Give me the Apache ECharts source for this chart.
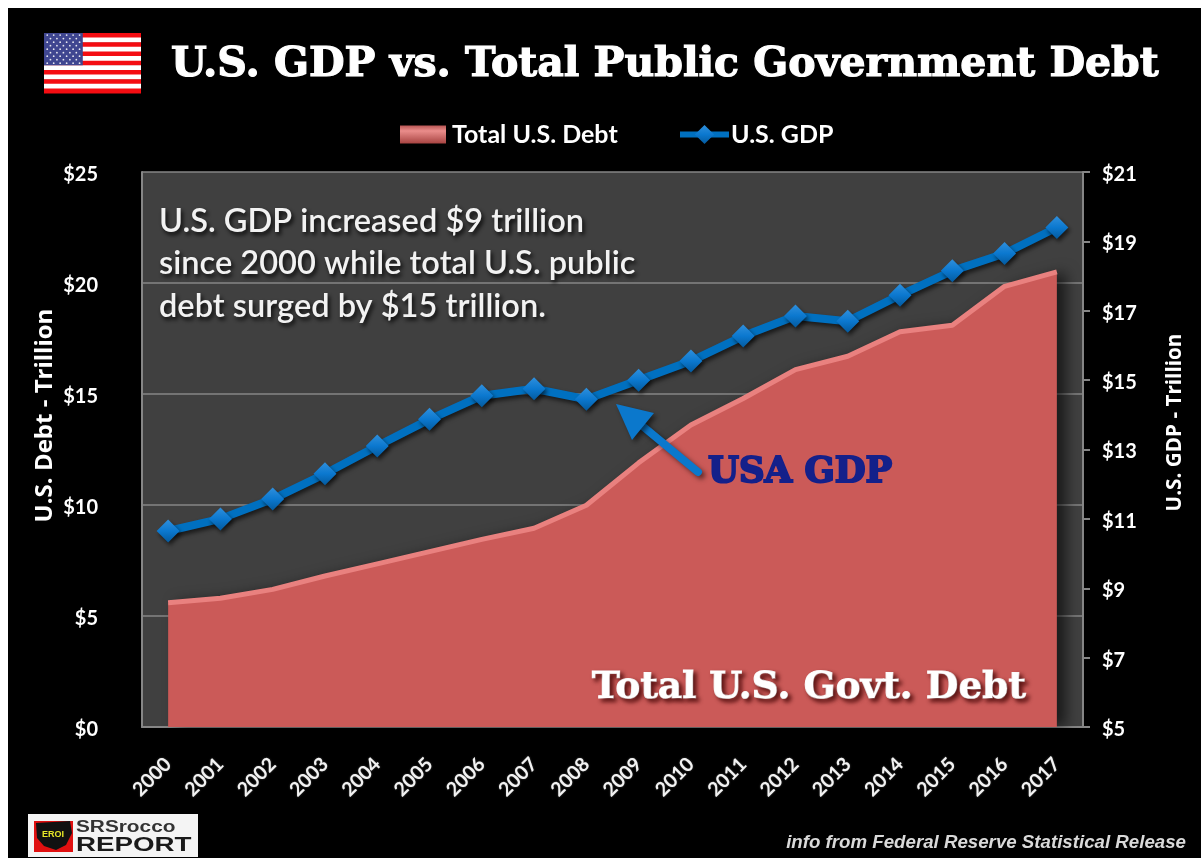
<!DOCTYPE html>
<html>
<head>
<meta charset="utf-8">
<title>U.S. GDP vs. Total Public Government Debt</title>
<script src="https://cdn.jsdelivr.net/npm/echarts@6/dist/echarts.min.js"></script>
<style>
  html, body { margin: 0; padding: 0; background: #fff; }
  #backdrop { position: absolute; left: 8px; top: 8px; width: 1193px; height: 850px; background: #000; }
  #chart { position: absolute; left: 0; top: 0; width: 1201px; height: 858px; }
</style>
</head>
<body>
<div id="backdrop"></div>
<div id="chart"></div>
<script>
// Annual figures, trillions of dollars
const years = ['2000','2001','2002','2003','2004','2005','2006','2007','2008','2009','2010','2011','2012','2013','2014','2015','2016','2017'];
const totalDebt = [5.6, 5.8, 6.2, 6.8, 7.35, 7.9, 8.45, 8.95, 9.99, 11.9, 13.6, 14.8, 16.1, 16.7, 17.8, 18.1, 19.85, 20.5];
const usGdp = [10.65, 11.0, 11.57, 12.3, 13.1, 13.87, 14.55, 14.75, 14.45, 15.0, 15.55, 16.27, 16.85, 16.7, 17.45, 18.15, 18.65, 19.4];
const gdpTicks = [5, 7, 9, 11, 13, 15, 17, 19, 21];
const noteLines = ['U.S. GDP increased $9 trillion', 'since 2000 while total U.S. public', 'debt surged by $15 trillion.'];

const SANS = 'Lato, "Open Sans", sans-serif';
const WIDE = '"Open Sans", Lato, sans-serif';
const SLAB = '"DejaVu Serif", serif';
const dollars = v => '{money|$' + v + '}';
// Rich style for the value axes: the top padding nudges the digits onto their ticks
const moneyRich = { money: { color: '#fff', fontFamily: SANS, fontWeight: 'bold', fontSize: 20, padding: [5, 0, 0, 0] } };

// Flag: thirteen stripes, blue canton and a lattice of stars
function flagElements(x, y, w, h) {
  const parts = [];
  const stripe = h / 13;
  for (let i = 0; i < 13; i++) {
    parts.push({ type: 'rect', silent: true, shape: { x, y: y + i * stripe, width: w, height: stripe + 0.5 },
      style: { fill: i % 2 ? '#ffffff' : '#f40d12' } });
  }
  const cw = w * 0.4, ch = stripe * 7;
  parts.push({ type: 'rect', silent: true, shape: { x, y, width: cw, height: ch }, style: { fill: '#3f4690' } });
  for (let r = 0; r < 9; r++) {
    const n = r % 2 ? 5 : 6;
    for (let c = 0; c < n; c++) {
      parts.push({ type: 'circle', silent: true,
        shape: { cx: x + (c + (r % 2 ? 1 : 0.5)) * cw / 6, cy: y + (r + 0.6) * ch / 9.2, r: 0.9 },
        style: { fill: '#e6e6f0' } });
    }
  }
  return parts;
}

// Publisher badge in the lower left corner
function badgeElements() {
  return [
    { type: 'rect', silent: true, shape: { x: 28, y: 814, width: 170, height: 43 }, style: { fill: '#f4f4f4' } },
    { type: 'rect', silent: true, shape: { x: 34, y: 821, width: 39, height: 31 }, style: { fill: '#e01010' } },
    { type: 'polygon', silent: true, shape: { points: [[36,823],[70,821],[72,833],[66,845],[56,850],[44,846],[37,838]] }, style: { fill: '#111' } },
    { type: 'text', silent: true, style: { x: 53, y: 835, text: 'EROI', fill: '#e6e628', font: 'bold 9px "Liberation Sans"', align: 'center', verticalAlign: 'middle' } },
    { type: 'text', silent: true, x: 76, y: 827.5, scaleX: 1.3, style: { x: 0, y: 0, text: 'SRSrocco', fill: '#333', font: 'bold 16px "Liberation Sans"', verticalAlign: 'middle' } },
    { type: 'text', silent: true, x: 76, y: 845, scaleX: 1.32, style: { x: 0, y: 0, text: 'REPORT', fill: '#1a1a1a', font: 'bold 21px "Liberation Sans"', verticalAlign: 'middle' } }
  ];
}

const chart = echarts.init(document.getElementById('chart'), null, { renderer: 'canvas' });

const noteText = noteLines.map((line, i) => ({
  type: 'text', silent: true, z: 20,
  style: { x: 159, y: 221 + i * 42.5, text: line, fill: '#f2f2f2', font: '600 32.6px ' + SANS, verticalAlign: 'middle',
    textShadowColor: 'rgba(0,0,0,0.85)', textShadowBlur: 4, textShadowOffsetX: 2, textShadowOffsetY: 3 }
}));

chart.setOption({
  animation: false,
  backgroundColor: 'transparent',
  title: {
    text: 'U.S. GDP vs. Total Public Government Debt',
    left: 171, top: 45, padding: 0,
    textStyle: { color: '#fff', fontFamily: SLAB, fontWeight: 'bold', fontSize: 41, textBorderColor: '#fff', textBorderWidth: 1.2 }
  },
  legend: [
    {
      top: 122, left: 400, padding: 0, itemWidth: 46, itemHeight: 18,
      textStyle: { color: '#fff', fontFamily: SANS, fontWeight: 'bold', fontSize: 25, padding: [0, 0, 0, 1] },
      data: [{ name: 'Total U.S. Debt', icon: 'rect' }]
    },
    {
      top: 122, left: 677, padding: 0, itemWidth: 49, itemHeight: 24,
      lineStyle: { width: 6 },
      textStyle: { color: '#fff', fontFamily: SANS, fontWeight: 'bold', fontSize: 25, padding: [0, 0, 0, -3] },
      data: [{ name: 'U.S. GDP' }]
    }
  ],
  grid: {
    left: 142, right: 118, top: 172, bottom: 131,
    show: true, backgroundColor: '#404040', borderWidth: 0
  },
  xAxis: {
    type: 'category', data: years, boundaryGap: true,
    axisLine: { lineStyle: { color: '#868686', width: 2 } },
    axisTick: { show: false },
    axisLabel: { color: '#f2f2f2', fontFamily: SANS, fontWeight: 'bold', fontSize: 19.5, rotate: 45, margin: 34, interval: 0,
      textShadowColor: 'rgba(255,255,255,0.3)', textShadowBlur: 2 }
  },
  yAxis: [
    {
      type: 'value', min: 0, max: 25, interval: 5, position: 'left',
      name: 'U.S. Debt - Trillion', nameLocation: 'middle', nameGap: 85, nameRotate: 90, nameMoveOverlap: false,
      nameTextStyle: { color: '#fff', fontFamily: WIDE, fontWeight: 'bold', fontSize: 24, padding: [0, 0, 0, 68] },
      axisLine: { show: true, lineStyle: { color: '#868686', width: 2 } },
      axisTick: { show: false },
      axisLabel: { margin: 44, formatter: dollars, rich: moneyRich },
      splitLine: { show: true, lineStyle: { color: '#868686', width: 1.5 } }
    },
    {
      type: 'value', min: 5, max: 21, position: 'right',
      name: 'U.S. GDP - Trillion', nameLocation: 'middle', nameGap: 82, nameRotate: 90,
      nameTextStyle: { color: '#fff', fontFamily: WIDE, fontWeight: 'bold', fontSize: 20.7, padding: [0, 0, 0, 54] },
      axisLine: { show: true, lineStyle: { color: '#868686', width: 2 } },
      axisTick: { show: true, length: 7, customValues: gdpTicks, lineStyle: { color: '#868686', width: 2 } },
      axisLabel: { margin: 19, customValues: gdpTicks, formatter: dollars, rich: moneyRich },
      splitLine: { show: false }
    }
  ],
  series: [
    {
      name: 'Total U.S. Debt', type: 'line', yAxisIndex: 0, data: totalDebt,
      showSymbol: false, symbol: 'none', z: 2,
      lineStyle: { color: '#e9817f', width: 5 },
      itemStyle: { color: new echarts.graphic.LinearGradient(0, 0, 0, 1, [
        { offset: 0, color: '#b85553' }, { offset: 0.3, color: '#ea8d8b' }, { offset: 1, color: '#a84442' }]) },
      areaStyle: { color: '#cb5a58', opacity: 1, shadowColor: 'rgba(0,0,0,0.6)', shadowBlur: 14, shadowOffsetX: 9, shadowOffsetY: 0 }
    },
    {
      name: 'U.S. GDP', type: 'line', yAxisIndex: 1, data: usGdp, z: 5,
      symbol: 'diamond', symbolSize: 23,
      lineStyle: { color: '#0070c0', width: 8, shadowColor: 'rgba(0,0,0,0.6)', shadowBlur: 4, shadowOffsetX: 2, shadowOffsetY: 3 },
      itemStyle: {
        color: new echarts.graphic.LinearGradient(0, 0, 0, 1, [
          { offset: 0, color: '#2f8fdc' }, { offset: 0.5, color: '#0b78cf' }, { offset: 1, color: '#045a9e' }]),
        shadowColor: 'rgba(0,0,0,0.6)', shadowBlur: 4, shadowOffsetX: 2, shadowOffsetY: 3
      }
    }
  ],
  graphic: [
    ...flagElements(44, 33, 97, 60),
    ...badgeElements(),
    ...noteText,
    // Callout pointing at the 2008 dip in GDP
    { type: 'line', silent: true, z: 20,
      shape: { x1: 698, y1: 472, x2: 640, y2: 424 },
      style: { stroke: '#0b78cc', lineWidth: 8, lineCap: 'round', shadowColor: 'rgba(0,0,0,0.55)', shadowBlur: 5, shadowOffsetX: 3, shadowOffsetY: 3 } },
    { type: 'polygon', silent: true, z: 20,
      shape: { points: [[616,404],[654,413],[632,440]] },
      style: { fill: '#0b78cc', shadowColor: 'rgba(0,0,0,0.55)', shadowBlur: 5, shadowOffsetX: 3, shadowOffsetY: 3 } },
    { type: 'text', silent: true, z: 20,
      style: { x: 708, y: 473, text: 'USA GDP', fill: '#14208a', font: 'bold 35.5px ' + SLAB, verticalAlign: 'middle',
        stroke: '#14208a', lineWidth: 2 } },
    { type: 'text', silent: true, z: 20,
      style: { x: 592, y: 688, text: 'Total U.S. Govt. Debt', fill: '#ffffff', font: 'bold 37.5px ' + SLAB, verticalAlign: 'middle',
        stroke: '#ffffff', lineWidth: 1.2,
        textShadowColor: 'rgba(60,0,0,0.8)', textShadowBlur: 4, textShadowOffsetX: 3, textShadowOffsetY: 3 } },
    { type: 'text', silent: true, z: 20,
      style: { x: 1186, y: 843, text: 'info from Federal Reserve Statistical Release', fill: '#d9d9d9', align: 'right', verticalAlign: 'middle',
        font: 'italic bold 18.7px "Liberation Sans"' } }
  ]
});
</script>
</body>
</html>
